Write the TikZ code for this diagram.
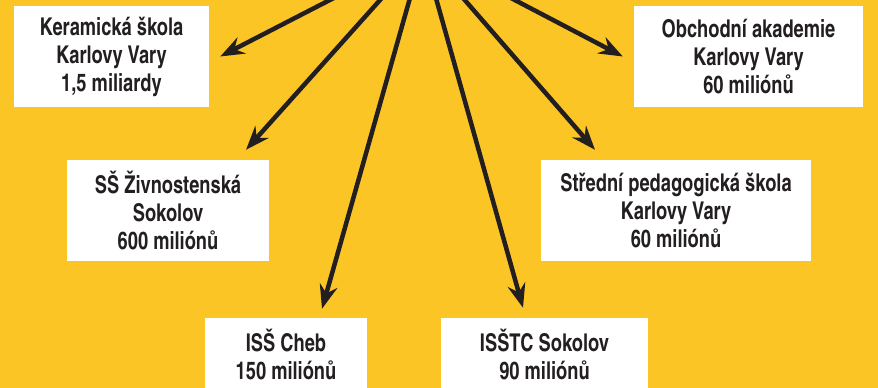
\documentclass[tikz,border=0pt]{standalone}
\usepackage{fontspec}
\usepackage{xcolor}
\usetikzlibrary{arrows.meta}
\newfontfamily\boxfont[FakeStretch=0.91]{texgyreheroscn-bold.otf}
\definecolor{bgyellow}{RGB}{252,197,38}
\definecolor{inkblack}{RGB}{35,31,32}

\begin{document}
\begin{tikzpicture}[x=1pt, y=-1pt,
    school/.style={fill=white, text=inkblack, align=center,
      inner sep=0pt, font=\boxfont\fontsize{24.5}{28}\selectfont},
    ray/.style={draw=inkblack, line width=4.5pt,
      -{Stealth[length=24pt, width=18pt, inset=8pt]}}]
    \path [use as bounding box]
      (0, 0) rectangle (878, 388);
    \path[fill=bgyellow] (0, 0) rectangle (878, 388);

    \node[school, minimum width=195pt, minimum height=101pt]
      (ker) at (111.5, 56.5) {Keramická škola\\Karlovy Vary\\1,5 miliardy};
    \node[school, minimum width=202pt, minimum height=101pt]
      (ziv) at (168, 210.5) {SŠ Živnostenská\\Sokolov\\600 miliónů};
    \node[school, minimum width=162pt, minimum height=73pt]
      (cheb) at (286, 354.5) {ISŠ Cheb\\150 miliónů};
    \node[school, minimum width=207pt, minimum height=73pt]
      (sok) at (544.5, 354.5) {ISŠTC Sokolov\\90 miliónů};
    \node[school, minimum width=270pt, minimum height=101pt]
      (ped) at (676, 210.5) {Střední pedagogická škola\\Karlovy Vary\\60 miliónů};
    \node[school, minimum width=229pt, minimum height=101pt]
      (obch) at (748.5, 56.5) {Obchodní akademie\\Karlovy Vary\\60 miliónů};

    \coordinate (hub) at (423, -48);
    \draw[ray] (hub) -- ([xshift=11pt]ker.east);
    \draw[ray] (hub) -- ([xshift=78pt, yshift=10pt]ziv.north);
    \draw[ray] (hub) -- ([xshift=36pt, yshift=9pt]cheb.north);
    \draw[ray] (hub) -- ([xshift=-21.5pt, yshift=10pt]sok.north);
    \draw[ray] (hub) -- ([xshift=-81pt, yshift=10pt]ped.north);
    \draw[ray] (hub) -- ([xshift=-11pt]obch.west);
  \end{tikzpicture}
\end{document}
